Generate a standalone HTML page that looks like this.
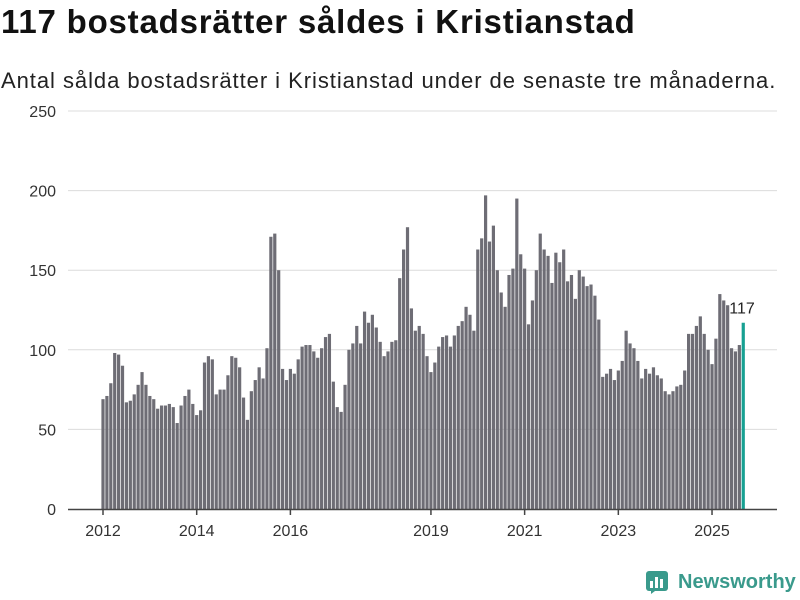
<!DOCTYPE html>
<html><head><meta charset="utf-8">
<style>
body{margin:0;width:800px;height:600px;background:#fff;overflow:hidden;font-family:"Liberation Sans",sans-serif;}
#title{position:absolute;left:1px;top:3px;font-size:33px;letter-spacing:0.8px;font-weight:bold;color:#111;white-space:nowrap;}
#sub{position:absolute;left:1px;top:68px;font-size:22px;letter-spacing:0.95px;color:#222;white-space:nowrap;}
#logo{position:absolute;left:645px;top:570px;display:flex;align-items:center;}
</style></head><body>
<div id="title">117 bostadsrätter såldes i Kristianstad</div>
<div id="sub">Antal sålda bostadsrätter i Kristianstad under de senaste tre månaderna.</div>
<svg id="chart" width="800" height="600" style="position:absolute;left:0;top:0"></svg>
<div id="logo">
<svg width="24" height="24"><rect x="1" y="1" width="22" height="20" rx="3" fill="#3a9a8c"/><rect x="5" y="11" width="3" height="7" fill="#fff"/><rect x="10" y="7" width="3" height="11" fill="#fff"/><rect x="15" y="9" width="3" height="9" fill="#fff"/><path d="M6 21 L6 24 L10 21 Z" fill="#3a9a8c"/></svg>
<span style="font-size:20px;font-weight:bold;color:#3a9a8c;margin-left:9px">Newsworthy</span>
</div>
<script>
const startYear = 2012;
const values = [69,71,79,98,97,90,67,68,72,78,86,78,
71,69,63,65,65,66,64,54,65,71,75,66,
59,62,92,96,94,72,75,75,84,96,95,89,
70,56,74,81,89,82,101,171,173,150,88,81,
88,85,94,102,103,103,99,95,101,108,110,80,
64,61,78,100,104,115,104,124,117,122,114,105,
96,99,105,106,145,163,177,126,112,115,110,96,
86,92,102,108,109,102,109,115,118,127,122,112,
163,170,197,168,178,150,136,127,147,151,195,160,
151,116,131,150,173,163,159,142,161,155,163,143,
147,132,150,146,140,141,134,119,83,85,88,81,
87,93,112,104,101,93,82,88,85,89,84,82,
74,72,74,77,78,87,110,110,115,121,110,100,
91,107,135,131,128,101,99,103,117];
const yTicks = [0,50,100,150,200,250];
const xTickYears = [2012,2014,2016,2019,2021,2023,2025];
const annotation = "117";

const svg = document.getElementById('chart');
const NS = 'http://www.w3.org/2000/svg';
const x0 = 103, step = 3.904, yBase = 509, yTop = 111, yMax = 250;
const xScale = i => x0 + i*step;
const yScale = v => yBase - (v/yMax)*(yBase-yTop);
function mk(tag, attrs){const e=document.createElementNS(NS,tag);for(const k in attrs)e.setAttribute(k,attrs[k]);svg.appendChild(e);return e;}
yTicks.forEach(t=>{
  if(t>0){const g=mk('line',{x1:68,x2:777,y1:yScale(t),y2:yScale(t),stroke:'#dcdcdc','stroke-width':1});
  
  }
  const l=mk('text',{x:56,y:yScale(t)+6,'text-anchor':'end','font-size':16,fill:'#333','font-family':'Liberation Sans, sans-serif'});
  l.textContent=t;
  
  
});
values.forEach((v,i)=>{
  const last = i===values.length-1;
  const r=mk('rect',{x:xScale(i)-1.6,y:yScale(v),width:3.2,height:yBase-yScale(v),fill:last?'#17a092':'#6e6d75'});
  
  
});
const ax=mk('line',{x1:68,x2:777,y1:yBase+0.5,y2:yBase+0.5,stroke:'#444','stroke-width':1.5});


xTickYears.forEach(yr=>{
  const x=xScale((yr-startYear)*12);
  const t=mk('line',{x1:x,x2:x,y1:yBase,y2:yBase+6,stroke:'#444','stroke-width':1.5});
  
  
  const l=mk('text',{x:x,y:536,'text-anchor':'middle','font-size':16,fill:'#333','font-family':'Liberation Sans, sans-serif'});
  l.textContent=yr;
  
  
});
const li=values.length-1;
const a=mk('text',{x:xScale(li)-14,y:yScale(values[li])-9,'font-size':16,fill:'#222','font-family':'Liberation Sans, sans-serif'});
a.textContent=annotation;


</script>
</body></html>
